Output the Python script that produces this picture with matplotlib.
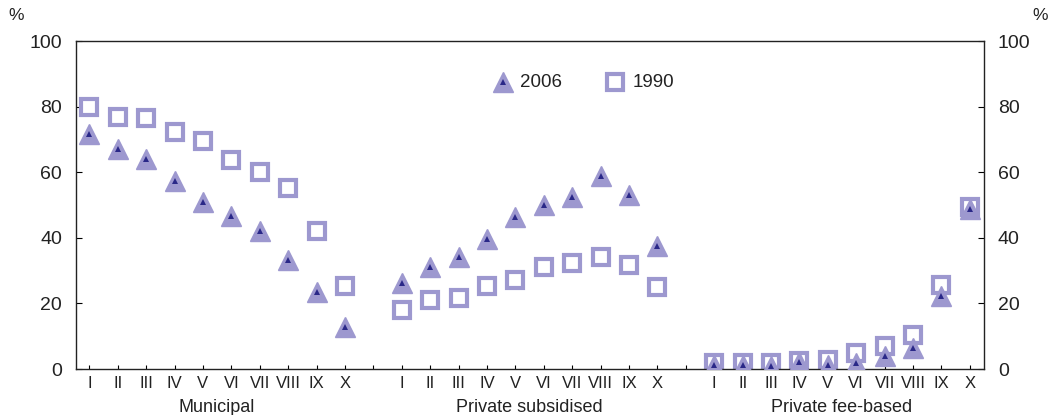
import numpy as np
import matplotlib.pyplot as plt

plt.rcParams['font.family'] = ['Liberation Sans', 'DejaVu Sans']

# Share of pupils by income decile and school type
deciles = ['I', 'II', 'III', 'IV', 'V', 'VI', 'VII', 'VIII', 'IX', 'X']
groups = ['Municipal', 'Private subsidised', 'Private fee-based']

share_2006 = {
  'Municipal': [71.6, 67.0, 63.9, 57.3, 51.0, 46.6, 42.2, 33.2, 23.4, 12.8],
  'Private subsidised': [26.1, 31.0, 34.0, 39.5, 46.4, 50.0, 52.3, 58.8, 53.1, 37.5],
  'Private fee-based': [1.1, 1.1, 1.0, 2.0, 1.3, 1.7, 4.1, 6.5, 22.3, 48.7],
}
share_1990 = {
  'Municipal': [80.0, 76.9, 76.5, 72.3, 69.4, 63.7, 60.2, 55.3, 42.2, 25.3],
  'Private subsidised': [18.0, 21.0, 21.5, 25.3, 27.1, 31.2, 32.4, 34.2, 31.7, 24.9],
  'Private fee-based': [1.9, 1.9, 1.7, 2.4, 2.9, 4.8, 7.1, 10.4, 25.6, 49.5],
}

light = '#9d98cf'
dark = '#2a2888'
ink = '#222222'

fig = plt.figure(figsize=(10.57, 4.15), dpi=100)
ax = fig.add_axes([0.0719, 0.1108, 0.8591, 0.7904])

# each group takes 10 slots, with one empty slot in between
xs = {g: np.arange(10) + i * 11 for i, g in enumerate(groups)}

for g in groups:
  ax.plot(xs[g], share_1990[g], ls='none', marker='s', ms=11, mfc='white',
          mec=light, mew=3, zorder=2)
  ax.plot(xs[g], share_2006[g], ls='none', marker='^', ms=14, mfc=light,
          mec=light, mew=1, zorder=3)
  ax.plot(xs[g], share_2006[g], ls='none', marker='^', ms=4.5, mfc=dark,
          mec=dark, mew=0, zorder=4)

ax.set_xlim(-0.47, 31.5)
ax.set_ylim(0, 100)

ticks = np.arange(32)
labels = []
for i in ticks:
  labels.append('' if i % 11 == 10 else deciles[i % 11])
ax.set_xticks(ticks)
ax.set_xticklabels(labels, fontsize=12, color=ink)
ax.set_yticks(range(0, 101, 20))
ax.tick_params(axis='x', direction='in', length=3, pad=5, width=0.8)
ax.tick_params(axis='y', direction='in', length=4, labelsize=14, pad=10,
               left=True, right=True, labelleft=True, labelright=True,
               width=0.8, labelcolor=ink)
for s in ax.spines.values():
  s.set_linewidth(1.0)
  s.set_color(ink)

for i, g in enumerate(groups):
  ax.text(i * 11 + 4.5, -0.092, g, transform=ax.get_xaxis_transform(),
          ha='center', va='top', fontsize=13, color=ink)

fig.text(0.008, 0.952, '%', fontsize=12.5, color=ink)
fig.text(0.977, 0.952, '%', fontsize=12.5, color=ink)

# legend drawn by hand, no frame
ly = 0.875
ax.plot([0.470], [ly], transform=ax.transAxes, marker='^', ms=14,
        mfc=light, mec=light, ls='none', clip_on=False)
ax.plot([0.470], [ly], transform=ax.transAxes, marker='^', ms=4.5,
        mfc=dark, mec=dark, mew=0, ls='none', clip_on=False)
ax.text(0.489, ly, '2006', transform=ax.transAxes, va='center', fontsize=13.5,
        color=ink)
ax.plot([0.594], [ly], transform=ax.transAxes, marker='s', ms=11,
        mfc='white', mec=light, mew=3, ls='none', clip_on=False)
ax.text(0.613, ly, '1990', transform=ax.transAxes, va='center', fontsize=13.5,
        color=ink)

fig.savefig('out.png', dpi=100)
